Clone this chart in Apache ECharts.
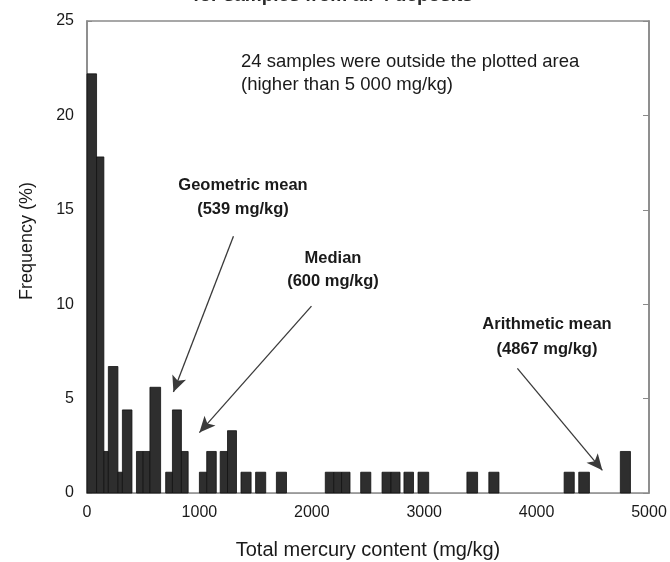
<!DOCTYPE html>
<html>
<head>
<meta charset="utf-8">
<script src="https://cdn.jsdelivr.net/npm/echarts@6/dist/echarts.min.js"></script>
<style>
  html, body { margin: 0; padding: 0; background: #fff; }
  #chart { width: 670px; height: 562px; }
</style>
</head>
<body>
<div id="chart"></div>
<script>
// Histogram bins of total mercury content (mg/kg) and the share of samples in each (%)
const binLow  = [0, 85, 150, 190, 275, 315, 440, 500, 560, 700, 760, 840, 1000, 1065, 1185, 1250, 1370, 1500, 1685, 2120, 2195, 2265, 2435, 2625, 2705, 2820, 2945, 3380, 3575, 4245, 4375, 4745];
const binHigh = [85, 150, 190, 275, 315, 400, 500, 560, 655, 760, 840, 900, 1065, 1150, 1250, 1330, 1460, 1590, 1775, 2195, 2265, 2340, 2525, 2705, 2785, 2905, 3040, 3475, 3665, 4335, 4470, 4835];
const frequency = [22.2, 17.8, 2.2, 6.7, 1.1, 4.4, 2.2, 2.2, 5.6, 1.1, 4.4, 2.2, 1.1, 2.2, 2.2, 3.3, 1.1, 1.1, 1.1, 1.1, 1.1, 1.1, 1.1, 1.1, 1.1, 1.1, 1.1, 1.1, 1.1, 1.1, 1.1, 2.2];

const xTicks = [0, 1000, 2000, 3000, 4000, 5000];
const yTicks = [0, 5, 10, 15, 20, 25];

// Annotation arrows: [fromX, fromY, toX, toY] in data units
const arrowGeometric  = [1303, 13.6, 769, 5.35];
const arrowMedian     = [1997, 9.9, 1000, 3.2];
const arrowArithmetic = [3829, 6.6, 4585, 1.2];

const FONT = '"Liberation Sans", Arial, Helvetica, sans-serif';

const chart = echarts.init(document.getElementById('chart'), null, { renderer: 'canvas' });

const bins = binLow.map((lo, i) => [lo, binHigh[i], frequency[i]]);

function arrowLine(a) {
  return [
    { coord: [a[0], a[1]], symbol: 'none' },
    { coord: [a[2], a[3]], symbol: 'arrow', symbolSize: [11, 16] }
  ];
}

const option = {
  backgroundColor: '#ffffff',
  animation: false,
  grid: {
    left: 87, right: 21, top: 21, bottom: 69,
    show: true, borderColor: '#8a8a8a', borderWidth: 1.5, backgroundColor: 'transparent'
  },
  xAxis: {
    type: 'value',
    min: xTicks[0], max: xTicks[xTicks.length - 1], interval: 1000,
    axisLine: { show: true, lineStyle: { color: '#9a9a9a', width: 1.2 } },
    axisTick: { show: false },
    splitLine: { show: false },
    axisLabel: { color: '#1a1a1a', fontFamily: FONT, fontSize: 16, margin: 12, formatter: v => String(v) }
  },
  yAxis: [
    {
      type: 'value',
      min: yTicks[0], max: yTicks[yTicks.length - 1], interval: 5,
      axisLine: { show: true, lineStyle: { color: '#8a8a8a', width: 1.6 } },
      axisTick: { show: true, inside: true, length: 5, lineStyle: { color: '#8a8a8a' } },
      splitLine: { show: false },
      axisLabel: { color: '#1a1a1a', fontFamily: FONT, fontSize: 16, margin: 13 }
    },
    {
      type: 'value', position: 'right',
      min: yTicks[0], max: yTicks[yTicks.length - 1], interval: 5,
      axisLine: { show: true, lineStyle: { color: '#8a8a8a', width: 1.6 } },
      axisTick: { show: true, inside: true, length: 6, lineStyle: { color: '#8a8a8a' } },
      splitLine: { show: false },
      axisLabel: { show: false }
    }
  ],
  series: [
    {
      type: 'custom',
      data: bins,
      encode: { x: [0, 1], y: 2 },
      renderItem: function (params, api) {
        const topLeft = api.coord([api.value(0), api.value(2)]);
        const bottomRight = api.coord([api.value(1), 0]);
        return {
          type: 'rect',
          shape: {
            x: topLeft[0], y: topLeft[1],
            width: bottomRight[0] - topLeft[0],
            height: bottomRight[1] - topLeft[1]
          },
          style: { fill: '#2e2e2e', stroke: '#111111', lineWidth: 0.8 }
        };
      },
      markLine: {
        silent: true,
        symbol: ['none', 'arrow'],
        label: { show: false },
        lineStyle: { color: '#3a3a3a', width: 1.3, type: 'solid' },
        data: [arrowLine(arrowGeometric), arrowLine(arrowMedian), arrowLine(arrowArithmetic)]
      },
      z: 2
    }
  ],
  graphic: [
    { type: 'text', style: { text: 'for samples from all 4 deposits', x: 333, y: 5, align: 'center', verticalAlign: 'bottom', font: 'bold 19px ' + FONT, fill: '#2a2a2a' } },
    { type: 'text', style: { text: '24 samples were outside the plotted area', x: 241, y: 62, verticalAlign: 'middle', font: '18.5px ' + FONT, fill: '#1a1a1a' } },
    { type: 'text', style: { text: '(higher than 5 000 mg/kg)', x: 241, y: 85, verticalAlign: 'middle', font: '18.5px ' + FONT, fill: '#1a1a1a' } },
    { type: 'text', style: { text: 'Geometric mean', x: 243, y: 185, align: 'center', verticalAlign: 'middle', font: 'bold 16.5px ' + FONT, fill: '#1a1a1a' } },
    { type: 'text', style: { text: '(539 mg/kg)', x: 243, y: 209, align: 'center', verticalAlign: 'middle', font: 'bold 16.5px ' + FONT, fill: '#1a1a1a' } },
    { type: 'text', style: { text: 'Median', x: 333, y: 258, align: 'center', verticalAlign: 'middle', font: 'bold 16.5px ' + FONT, fill: '#1a1a1a' } },
    { type: 'text', style: { text: '(600 mg/kg)', x: 333, y: 281, align: 'center', verticalAlign: 'middle', font: 'bold 16.5px ' + FONT, fill: '#1a1a1a' } },
    { type: 'text', style: { text: 'Arithmetic mean', x: 547, y: 324, align: 'center', verticalAlign: 'middle', font: 'bold 16.5px ' + FONT, fill: '#1a1a1a' } },
    { type: 'text', style: { text: '(4867 mg/kg)', x: 547, y: 349, align: 'center', verticalAlign: 'middle', font: 'bold 16.5px ' + FONT, fill: '#1a1a1a' } },
    { type: 'text', rotation: Math.PI / 2, x: 27, y: 241, style: { text: 'Frequency (%)', align: 'center', verticalAlign: 'middle', font: '18px ' + FONT, fill: '#1a1a1a' } },
    { type: 'text', style: { text: 'Total mercury content (mg/kg)', x: 368, y: 550, align: 'center', verticalAlign: 'middle', font: '20px ' + FONT, fill: '#1a1a1a' } }
  ]
};

chart.setOption(option);
</script>
</body>
</html>
